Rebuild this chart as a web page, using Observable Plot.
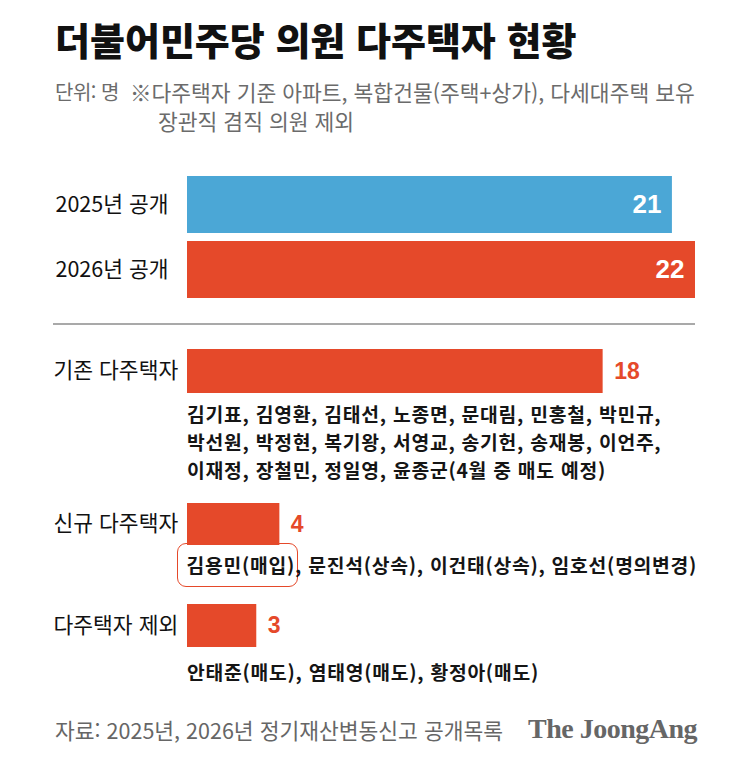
<!DOCTYPE html>
<html lang="ko">
<head>
<meta charset="utf-8">
<script src="https://cdn.jsdelivr.net/npm/d3@7"></script>
<script src="https://cdn.jsdelivr.net/npm/@observablehq/plot@0.6"></script>
<style>
  html, body { margin: 0; padding: 0; background: #fff; }
  #chart { position: relative; width: 740px; height: 775px; font-family: "Noto Sans CJK KR", "Noto Sans", sans-serif; color: #111; overflow: hidden; }
  .abs { position: absolute; white-space: nowrap; }
  .title { left: 55px; top: 20px; font-size: 38px; line-height: 38px; font-weight: 900; letter-spacing: 0px; color: #111; }
  .sub { font-size: 21.5px; line-height: 28px; color: #6b6b6b; letter-spacing: 0px; }
  .unit { font-size: 20px; letter-spacing: -0.5px; }
  .names { left: 187px; font-size: 19.3px; line-height: 28px; font-weight: 700; letter-spacing: 0.75px; color: #151515; }
  .boxed { border: 1.5px solid #e5492a; border-radius: 9px; padding: 7px 2px 7px 9px; margin-left: -10.5px; margin-right: -3px; }
  .sep { left: 53px; top: 323px; width: 642px; height: 2px; background: #a9a9a9; }
  .foot { left: 55px; top: 716px; font-size: 21.5px; line-height: 28px; color: #666; letter-spacing: 0px; }
  .logo { right: 43px; top: 712px; font-family: "Liberation Serif", "DejaVu Serif", serif; font-weight: 700; font-size: 28px; line-height: 34px; color: #666; letter-spacing: -0.5px; }
  .plot { position: absolute; left: 0; }
</style>
</head>
<body>
<div id="chart"></div>
<script>
// ---- data ----
const topCategories = ["2025년 공개", "2026년 공개"];
const topValues = [21, 22];
const groupCategories = ["기존 다주택자", "신규 다주택자", "다주택자 제외"];
const groupValues = [18, 4, 3];
const groupNames = [
  ["김기표, 김영환, 김태선, 노종면, 문대림, 민홍철, 박민규,",
   "박선원, 박정현, 복기왕, 서영교, 송기헌, 송재봉, 이언주,",
   "이재정, 장철민, 정일영, 윤종군(4월 중 매도 예정)"],
  ["김용민(매입)", ", 문진석(상속), 이건태(상속), 임호선(명의변경)"],
  ["안태준(매도), 염태영(매도), 황정아(매도)"]
];
const titleText = "더불어민주당 의원 다주택자 현황";
const unitText = "단위: 명";
const noteLines = ["※다주택자 기준 아파트, 복합건물(주택+상가), 다세대주택 보유", "장관직 겸직 의원 제외"];
const sourceText = "자료: 2025년, 2026년 정기재산변동신고 공개목록";
const logoText = "The JoongAng";
const xDomain = [0, 22];

// ---- style / layout ----
const BLUE = "#4ba7d6";
const RED = "#e5492a";
const NUM_FONT = "'Liberation Sans', Arial, sans-serif";
const LABEL_FONT = "'Noto Sans CJK KR', sans-serif";
const W = 740, ML = 187, MR = 45;

const root = document.getElementById("chart");
function addDiv(cls, text, style) {
  const d = document.createElement("div");
  d.className = "abs " + cls;
  if (text != null) d.textContent = text;
  if (style) Object.assign(d.style, style);
  root.appendChild(d);
  return d;
}

addDiv("title", titleText);
addDiv("sub unit", unitText, {left: "55px", top: "78px"});
addDiv("sub", noteLines[0], {left: "130px", top: "78px"});
addDiv("sub", noteLines[1], {left: "158px", top: "107px"});

// top comparison bars
const topData = topCategories.map((c, i) => ({label: c, value: topValues[i]}));
const topPlot = Plot.plot({
  width: W, height: 140,
  marginLeft: ML, marginRight: MR, marginTop: 8, marginBottom: 8,
  x: {domain: xDomain, axis: null},
  y: {domain: topCategories, axis: null, paddingInner: 0.12, paddingOuter: 0},
  color: {domain: topCategories, range: [BLUE, RED]},
  style: {background: "transparent", overflow: "visible"},
  marks: [
    Plot.barX(topData, {x: "value", y: "label", fill: "label"}),
    Plot.text(topData, {x: "value", y: "label", text: d => String(d.value), textAnchor: "end", dx: -11,
      fill: "white", fontSize: 26, fontWeight: "bold", fontFamily: NUM_FONT}),
    Plot.text(topData, {y: "label", text: "label", frameAnchor: "left", textAnchor: "start", dx: -132,
      fill: "#111", fontSize: 21.5, fontFamily: LABEL_FONT})
  ]
});
topPlot.classList.add("plot");
topPlot.style.top = "167px";
root.appendChild(topPlot);

addDiv("sep", null);

// group bars
const groupLayout = [
  {top: 341, band: 44, namesTop: 400},
  {top: 495, band: 42, namesTop: 551},
  {top: 596, band: 43, namesTop: 658}
];
groupCategories.forEach((cat, i) => {
  const data = [{label: cat, value: groupValues[i]}];
  const L = groupLayout[i];
  const p = Plot.plot({
    width: W, height: L.band + 16,
    marginLeft: ML, marginRight: MR, marginTop: 8, marginBottom: 8,
    x: {domain: xDomain, axis: null},
    y: {domain: [cat], axis: null, padding: 0},
    style: {background: "transparent", overflow: "visible"},
    marks: [
      Plot.barX(data, {x: "value", y: "label", fill: RED}),
      Plot.text(data, {x: "value", y: "label", text: d => String(d.value), textAnchor: "start", dx: 11,
        fill: RED, fontSize: 23, fontWeight: "bold", fontFamily: NUM_FONT}),
      Plot.text(data, {y: "label", text: "label", frameAnchor: "left", textAnchor: "start", dx: -134,
        fill: "#111", fontSize: 21.5, fontFamily: LABEL_FONT})
    ]
  });
  p.classList.add("plot");
  p.style.top = L.top + "px";
  root.appendChild(p);

  const block = addDiv("names", null, {top: L.namesTop + "px"});
  if (i === 1) {
    const s = document.createElement("span");
    s.className = "boxed";
    s.textContent = groupNames[i][0];
    block.appendChild(s);
    block.appendChild(document.createTextNode(groupNames[i][1]));
  } else {
    groupNames[i].forEach((line, j) => {
      if (j > 0) block.appendChild(document.createElement("br"));
      block.appendChild(document.createTextNode(line));
    });
  }
});

addDiv("foot", sourceText);
addDiv("logo", logoText);
</script>
</body>
</html>
